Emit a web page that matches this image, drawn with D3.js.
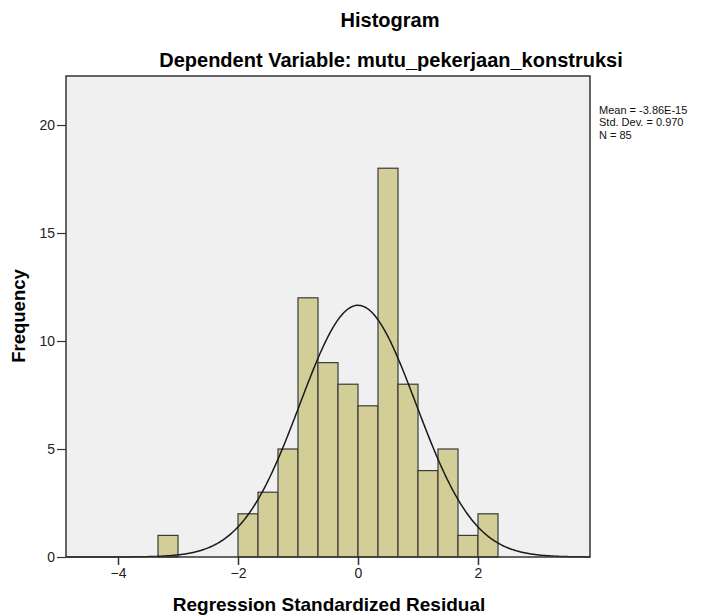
<!DOCTYPE html>
<html><head><meta charset="utf-8">
<script src="https://cdn.jsdelivr.net/npm/d3@7"></script>
<style>body{margin:0;background:#fff}svg{display:block}text{font-family:"Liberation Sans",Arial,sans-serif}</style>
</head><body>
<script>
// Data
const binStarts = [-10/3, -2, -5/3, -4/3, -1, -2/3, -1/3, 0, 1/3, 2/3, 1, 4/3, 5/3, 2];
const binWidth = 1/3;
const counts = [1, 2, 3, 5, 12, 9, 8, 7, 18, 8, 4, 5, 1, 2];
const xTicks = [-4, -2, 0, 2];
const yTicks = [0, 5, 10, 15, 20];
const statsMean = -3.86e-15, statsSD = 0.970, statsN = 85;
const legendLines = ["Mean = -3.86E-15", "Std. Dev. = 0.970", "N = 85"];

const W = 710, H = 615;
const svg = d3.select("body").append("svg").attr("width", W).attr("height", H);
const L = 66, R = 590, T = 76, B = 557;
const x = d3.scaleLinear().domain([-4.867, 3.867]).range([L, R]);
const y = d3.scaleLinear().domain([0, 22.27]).range([B, T]);

svg.append("rect").attr("x", L).attr("y", T).attr("width", R - L).attr("height", B - T)
  .attr("fill", "#f0f0f0");

const bins = binStarts.map((s, i) => ({x0: s, x1: s + binWidth, n: counts[i]}));
svg.append("g").selectAll("rect").data(bins).join("rect")
  .attr("x", d => x(d.x0)).attr("width", d => x(d.x1) - x(d.x0))
  .attr("y", d => y(d.n)).attr("height", d => y(0) - y(d.n))
  .attr("fill", "#d3ce97").attr("stroke", "#3a3a3a").attr("stroke-width", 1.2);

// normal curve
const pts = d3.range(0, 401).map(i => {
  const xv = -4.867 + i * (3.867 + 4.867) / 400;
  const z = (xv - statsMean) / statsSD;
  return [xv, statsN * binWidth * Math.exp(-0.5 * z * z) / (statsSD * Math.sqrt(2 * Math.PI))];
});
svg.append("path").datum(pts)
  .attr("d", d3.line().x(d => x(d[0])).y(d => y(d[1])))
  .attr("fill", "none").attr("stroke", "#1a1a1a").attr("stroke-width", 1.5);

// frame
svg.append("rect").attr("x", L).attr("y", T).attr("width", R - L).attr("height", B - T)
  .attr("fill", "none").attr("stroke", "#333").attr("stroke-width", 1.5);

const ff = '"Liberation Sans",Arial,sans-serif';
// axes
const xAxis = d3.axisBottom(x).tickValues(xTicks).tickSize(8).tickPadding(3).tickFormat(d3.format("d"));
const gx = svg.append("g").attr("transform", `translate(0,${B})`).call(xAxis);
gx.select(".domain").remove();
gx.selectAll("line").attr("stroke", "#333").attr("stroke-width", 1.5);
gx.selectAll("text").attr("font-size", 14).attr("fill", "#222").attr("font-family", ff);

const yAxis = d3.axisLeft(y).tickValues(yTicks).tickSize(9).tickPadding(2).tickFormat(d3.format("d"));
const gy = svg.append("g").attr("transform", `translate(${L},0)`).call(yAxis);
gy.select(".domain").remove();
gy.selectAll("line").attr("stroke", "#333").attr("stroke-width", 1.2);
gy.selectAll("text").attr("font-size", 14).attr("fill", "#222").attr("font-family", ff);

// titles
svg.append("text").attr("x", 390).attr("y", 27).attr("text-anchor", "middle")
  .attr("font-size", 20).attr("font-weight", "bold").text("Histogram");
svg.append("text").attr("x", 391).attr("y", 67).attr("text-anchor", "middle")
  .attr("font-size", 20).attr("font-weight", "bold").text("Dependent Variable: mutu_pekerjaan_konstruksi");
svg.append("text").attr("x", 329).attr("y", 611).attr("text-anchor", "middle")
  .attr("font-size", 19).attr("font-weight", "bold").text("Regression Standardized Residual");
svg.append("text").attr("transform", "translate(25,316) rotate(-90)").attr("text-anchor", "middle")
  .attr("font-size", 18.5).attr("font-weight", "bold").text("Frequency");

// legend
svg.append("g").selectAll("text").data(legendLines).join("text")
  .attr("x", 599).attr("y", (d, i) => 113.5 + i * 12.8)
  .attr("font-size", 11).attr("fill", "#111").text(d => d);
</script>
</body></html>
